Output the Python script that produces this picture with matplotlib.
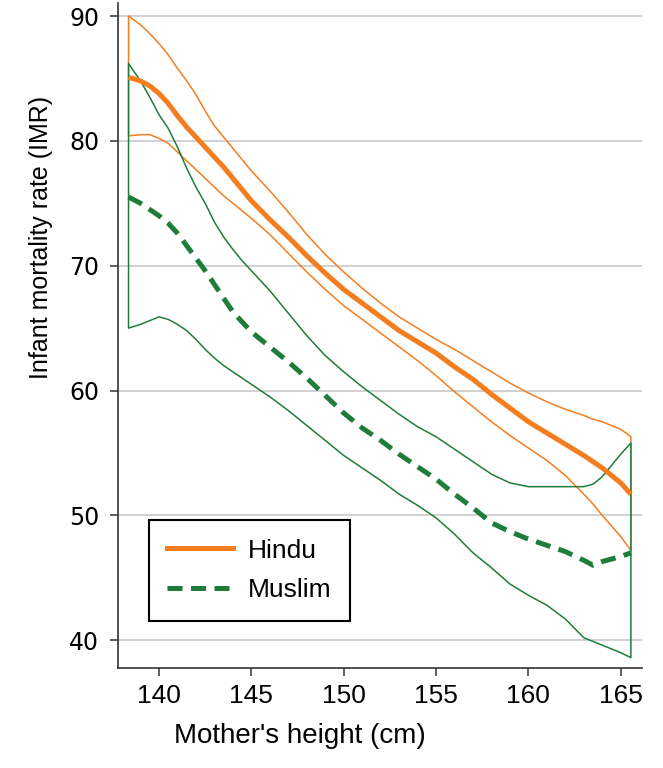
import matplotlib
matplotlib.use("Agg")
import matplotlib.pyplot as plt
from matplotlib.lines import Line2D

# mother's height grid (cm)
height = [138.35, 139, 139.5, 140, 140.5, 141, 141.5, 142, 142.5, 143, 143.5, 144, 144.5, 145,
          146, 147, 148, 149, 150, 151, 152, 153, 154, 155, 156, 157, 158, 159, 160, 161, 162, 163,
          163.5, 164, 165, 165.55]

hindu_mean = [85.1, 84.8, 84.4, 83.8, 83.0, 82.0, 81.1, 80.3, 79.5, 78.7, 77.9, 77.0, 76.1, 75.2,
              73.7, 72.3, 70.8, 69.4, 68.1, 67.0, 65.9, 64.8, 63.9, 63.0, 61.9, 60.9, 59.7, 58.6,
              57.5, 56.6, 55.7, 54.8, 54.3, 53.8, 52.6, 51.7]
hindu_hi = [90.0, 89.3, 88.6, 87.8, 86.9, 85.8, 84.8, 83.7, 82.4, 81.2, 80.3, 79.4, 78.5, 77.6,
            76.0, 74.3, 72.5, 70.9, 69.5, 68.2, 67.0, 65.9, 65.0, 64.1, 63.3, 62.4, 61.5, 60.6,
            59.8, 59.1, 58.5, 58.0, 57.7, 57.5, 56.9, 56.3]
hindu_lo = [80.4, 80.5, 80.5, 80.2, 79.8, 79.1, 78.4, 77.7, 77.0, 76.3, 75.6, 75.0, 74.4, 73.8,
            72.5, 71.0, 69.5, 68.1, 66.8, 65.7, 64.6, 63.5, 62.4, 61.2, 59.9, 58.7, 57.5, 56.4,
            55.4, 54.4, 53.2, 51.7, 50.9, 50.0, 48.3, 47.2]

muslim_mean = [75.5, 75.0, 74.5, 74.0, 73.4, 72.6, 71.6, 70.6, 69.6, 68.5, 67.4, 66.3, 65.5, 64.7,
               63.5, 62.3, 61.0, 59.6, 58.2, 57.0, 56.0, 54.9, 53.9, 52.9, 51.7, 50.6, 49.4, 48.7,
               48.1, 47.6, 47.1, 46.4, 46.0, 46.3, 46.7, 47.0]
muslim_hi = [86.2, 84.8, 83.5, 82.1, 81.0, 79.5, 77.8, 76.3, 75.0, 73.5, 72.3, 71.3, 70.4, 69.6,
             68.0, 66.2, 64.4, 62.8, 61.5, 60.3, 59.2, 58.1, 57.1, 56.3, 55.3, 54.3, 53.3, 52.6,
             52.3, 52.3, 52.3, 52.3, 52.5, 53.1, 54.9, 55.8]
muslim_lo = [65.0, 65.3, 65.6, 65.9, 65.7, 65.3, 64.8, 64.1, 63.3, 62.6, 62.0, 61.5, 61.0, 60.5,
             59.5, 58.4, 57.2, 56.0, 54.8, 53.8, 52.8, 51.7, 50.8, 49.8, 48.5, 47.0, 45.8, 44.5,
             43.6, 42.8, 41.7, 40.2, 39.9, 39.6, 39.0, 38.6]

xticks = [140, 145, 150, 155, 160, 165]
yticks = [40, 50, 60, 70, 80, 90]

orange = "#f47d20"
green = "#1f7d3a"
sans = ["Liberation Sans", "DejaVu Sans"]

fig = plt.figure(figsize=(6.63, 7.68), dpi=100)
ax = fig.add_axes([0.178, 0.130, 0.790, 0.866])

# confidence bands drawn as outlines
ax.fill(height + height[::-1], hindu_hi + hindu_lo[::-1], facecolor="none",
        edgecolor=orange, lw=1.1, zorder=2, joinstyle="round")
ax.fill(height + height[::-1], muslim_hi + muslim_lo[::-1], facecolor="none",
        edgecolor=green, lw=1.1, zorder=3, joinstyle="round")

ax.plot(height, hindu_mean, color=orange, lw=3.6, zorder=4, solid_capstyle="butt",
        solid_joinstyle="round")
ax.plot(height, muslim_mean, color=green, lw=3.6, zorder=4, dashes=(3, 1.7))

ax.set_xlim(137.78, 166.14)
ax.set_ylim(37.76, 91.04)
ax.set_xticks(xticks)
ax.set_yticks(yticks)
ax.grid(axis="y", color="#c9c9cc", lw=1.2)
ax.set_axisbelow(True)

for s in ["top", "right"]:
    ax.spines[s].set_visible(False)
for s in ["left", "bottom"]:
    ax.spines[s].set_color("#333333")
    ax.spines[s].set_linewidth(1.2)

ax.tick_params(axis="both", direction="out", length=5.5, width=1.1, color="#333333")
ax.tick_params(axis="y", pad=8)
ax.tick_params(axis="x", pad=6)
for t in ax.get_yticklabels():
    t.set_fontfamily("DejaVu Sans")
    t.set_fontsize(17)
for t in ax.get_xticklabels():
    t.set_fontfamily(sans)
    t.set_fontsize(19)

ax.set_xlabel("Mother's height (cm)", fontsize=20, family=sans)
ax.xaxis.set_label_coords(0.347, -0.083)
ax.set_ylabel("Infant mortality rate (IMR)", fontsize=18, family=sans)
ax.yaxis.set_label_coords(-0.125, 0.648)

handles = [Line2D([], [], color=orange, lw=3.6),
           Line2D([], [], color=green, lw=3.6, dashes=(3, 1.7))]
leg = ax.legend(handles, ["Hindu", "Muslim"], loc="lower left",
                bbox_to_anchor=(0.059, 0.071), borderaxespad=0, fancybox=False,
                edgecolor="black", framealpha=1, prop={"family": "Liberation Sans", "size": 19},
                handlelength=2.5, handletextpad=0.55, borderpad=0.7, labelspacing=0.6)
leg.get_frame().set_linewidth(1.5)

fig.savefig("out.png", dpi=100)
